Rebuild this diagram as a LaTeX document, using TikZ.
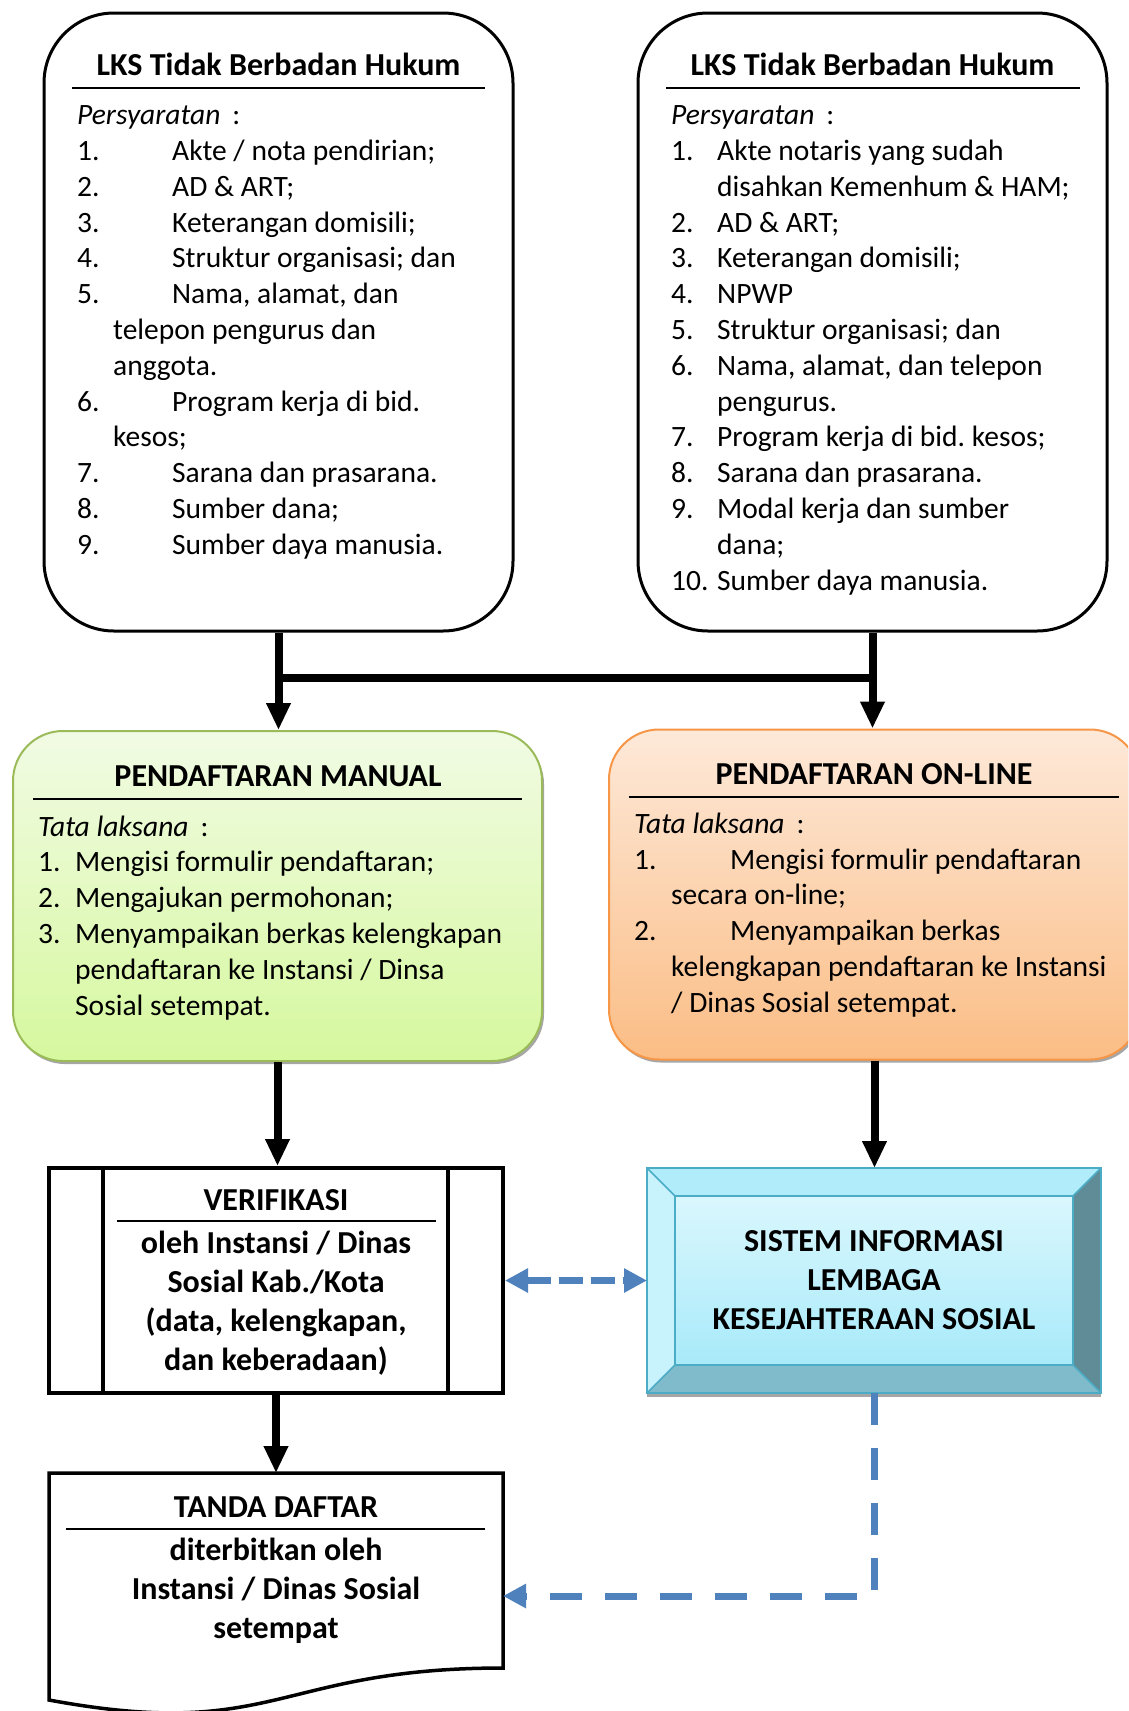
\documentclass[tikz,border=0pt]{standalone}
\usepackage{fontspec}
\setmainfont{Carlito}
\usetikzlibrary{arrows.meta,calc,shadows}
\frenchspacing

\definecolor{hijauGaris}{RGB}{155,187,89}
\definecolor{hijauAtas}{RGB}{241,251,228}
\definecolor{hijauBawah}{RGB}{214,248,158}
\definecolor{oranyeGaris}{RGB}{247,150,70}
\definecolor{oranyeAtas}{RGB}{253,233,217}
\definecolor{oranyeBawah}{RGB}{251,189,133}
\definecolor{biruGaris}{RGB}{75,172,198}
\definecolor{biruMuka}{RGB}{218,247,253}
\definecolor{biruMukaB}{RGB}{168,234,250}
\definecolor{biruAtas}{RGB}{176,236,250}
\definecolor{biruKiri}{RGB}{200,242,252}
\definecolor{biruKanan}{RGB}{95,140,150}
\definecolor{biruBawah}{RGB}{128,187,204}
\definecolor{biruPanah}{RGB}{79,129,189}

\begin{document}
\begin{tikzpicture}[x=1pt, y=-1pt,
    font=\fontsize{29.5}{35.8}\selectfont,
    kotakLKS/.style={draw, line width=3pt, rounded corners=70pt,
        minimum width=469pt, minimum height=618pt, inner sep=0pt},
    kotakDaftar/.style={line width=2pt, rounded corners=50pt, inner sep=0pt,
        minimum height=330pt,
        drop shadow={shadow xshift=2pt, shadow yshift=-3pt, fill=black, opacity=0.35}},
    isi/.style={anchor=north west, align=left, inner sep=0pt},
    judul/.style={anchor=base, inner sep=0pt, font=\fontsize{32}{35.8}\selectfont\bfseries},
    tengah/.style={anchor=north, align=center, inner sep=0pt,
        font=\fontsize{32}{39}\selectfont\bfseries},
    garis/.style={line width=1.5pt},
    sambung/.style={line width=8pt},
    panah/.style={line width=8pt, -{Triangle[length=27pt,width=23pt]}},
    putus/.style={line width=7pt, draw=biruPanah},
    ujung/.tip={Triangle[length=23pt,width=23pt]}
]
    \useasboundingbox (0,0) rectangle (1128,1711);
    \clip (0,0) rectangle (1128,1711);

    % LKS kiri
    \node[kotakLKS] (lks1) at (278.5,322) {};
    \node[judul] (judul1) at (278.5,75) {LKS Tidak Berbadan Hukum};
    \draw[garis] (72,88) -- (485,88);
    \node[isi] (syarat1) at (77,99.5) {\strut\textit{Persyaratan}\hspace{12pt}:\\
        \makebox[95pt][l]{1.}Akte / nota pendirian;\\
        \makebox[95pt][l]{2.}AD \& ART;\\
        \makebox[95pt][l]{3.}Keterangan domisili;\\
        \makebox[95pt][l]{4.}Struktur organisasi; dan\\
        \makebox[95pt][l]{5.}Nama, alamat, dan\\
        \hspace*{36pt}telepon pengurus dan\\
        \hspace*{36pt}anggota.\\
        \makebox[95pt][l]{6.}Program kerja di bid.\\
        \hspace*{36pt}kesos;\\
        \makebox[95pt][l]{7.}Sarana dan prasarana.\\
        \makebox[95pt][l]{8.}Sumber dana;\\
        \makebox[95pt][l]{9.}Sumber daya manusia.};

    % LKS kanan
    \node[kotakLKS] (lks2) at (872.5,322) {};
    \node[judul] (judul2) at (872.5,75) {LKS Tidak Berbadan Hukum};
    \draw[garis] (666,88) -- (1080,88);
    \node[isi] (syarat2) at (671,99.5) {\strut\textit{Persyaratan}\hspace{12pt}:\\
        \makebox[46pt][l]{1.}Akte notaris yang sudah\\
        \hspace*{46pt}disahkan Kemenhum \& HAM;\\
        \makebox[46pt][l]{2.}AD \& ART;\\
        \makebox[46pt][l]{3.}Keterangan domisili;\\
        \makebox[46pt][l]{4.}NPWP\\
        \makebox[46pt][l]{5.}Struktur organisasi; dan\\
        \makebox[46pt][l]{6.}Nama, alamat, dan telepon\\
        \hspace*{46pt}pengurus.\\
        \makebox[46pt][l]{7.}Program kerja di bid. kesos;\\
        \makebox[46pt][l]{8.}Sarana dan prasarana.\\
        \makebox[46pt][l]{9.}Modal kerja dan sumber\\
        \hspace*{46pt}dana;\\
        \makebox[46pt][l]{10.}Sumber daya manusia.};

    % Pendaftaran manual
    \node[kotakDaftar, draw=hijauGaris, top color=hijauAtas, bottom color=hijauBawah,
        minimum width=529pt] (manual) at (277.5,896) {};
    \node[judul] (judulM) at (278,786) {PENDAFTARAN MANUAL};
    \draw[garis] (33,799) -- (522,799);
    \node[isi] (tataM) at (38,810.9) {\strut\textit{Tata laksana}\hspace{12pt}:\\
        \makebox[37pt][l]{1.}Mengisi formulir pendaftaran;\\
        \makebox[37pt][l]{2.}Mengajukan permohonan;\\
        \makebox[37pt][l]{3.}Menyampaikan berkas kelengkapan\\
        \hspace*{37pt}pendaftaran ke Instansi / Dinsa\\
        \hspace*{37pt}Sosial setempat.};

    % Pendaftaran on-line
    \node[kotakDaftar, draw=oranyeGaris, top color=oranyeAtas, bottom color=oranyeBawah,
        minimum width=531pt] (online) at (874.5,894.5) {};
    \node[judul] (judulO) at (874,784) {PENDAFTARAN ON-LINE};
    \draw[garis] (629,797) -- (1119,797);
    \node[isi] (tataO) at (634,808) {\strut\textit{Tata laksana}\hspace{12pt}:\\
        \makebox[96pt][l]{1.}Mengisi formulir pendaftaran\\
        \hspace*{37pt}secara on-line;\\
        \makebox[96pt][l]{2.}Menyampaikan berkas\\
        \hspace*{37pt}kelengkapan pendaftaran ke Instansi\\
        \hspace*{37pt}/ Dinas Sosial setempat.};

    % Verifikasi
    \node[draw, line width=4pt, minimum width=454pt, minimum height=225pt,
        inner sep=0pt] (verif) at (276,1280.5) {};
    \draw[line width=4pt] ([xshift=56pt]verif.north west) -- ([xshift=56pt]verif.south west);
    \draw[line width=4pt] ([xshift=-57pt]verif.north east) -- ([xshift=-57pt]verif.south east);
    \node[judul] (judulV) at (276,1210) {VERIFIKASI};
    \draw[garis] (117,1221) -- (436,1221);
    \node[tengah] (teksV) at (276,1225.7) {\strut oleh Instansi / Dinas\\
        Sosial Kab./Kota\\(data, kelengkapan,\\dan keberadaan)};

    % Sistem informasi
    \node[minimum width=454pt, minimum height=225pt, inner sep=0pt,
        outer sep=0pt] (sik) at (874,1280.5) {};
    \fill[black!35] ([yshift=-4pt]sik.south west) rectangle (sik.south east);
    \fill[biruAtas] (sik.north west) -- (sik.north east) -- ++(-28,28)
        -- ($(sik.north west)+(28,28)$) -- cycle;
    \fill[biruKiri] (sik.north west) -- ++(28,28) -- ($(sik.south west)+(28,-28)$)
        -- (sik.south west) -- cycle;
    \fill[biruKanan] (sik.north east) -- ++(-28,28) -- ($(sik.south east)+(-28,-28)$)
        -- (sik.south east) -- cycle;
    \fill[biruBawah] (sik.south west) -- ++(28,-28) -- ($(sik.south east)+(-28,-28)$)
        -- (sik.south east) -- cycle;
    \shade[top color=biruMuka, bottom color=biruMukaB]
        ($(sik.north west)+(28,28)$) rectangle ($(sik.south east)+(-28,-28)$);
    \draw[biruGaris, line width=1.5pt] (sik.north west) rectangle (sik.south east);
    \draw[biruGaris, line width=1.5pt]
        ($(sik.north west)+(28,28)$) rectangle ($(sik.south east)+(-28,-28)$);
    \draw[biruGaris, line width=1.5pt] (sik.north west) -- ++(28,28);
    \draw[biruGaris, line width=1.5pt] (sik.north east) -- ++(-28,28);
    \draw[biruGaris, line width=1.5pt] (sik.south west) -- ++(28,-28);
    \draw[biruGaris, line width=1.5pt] (sik.south east) -- ++(-28,-28);
    \node[tengah] (teksS) at (874,1223.7) {\strut SISTEM INFORMASI\\LEMBAGA\\
        KESEJAHTERAAN SOSIAL};

    % Tanda daftar
    \node[minimum width=454pt, minimum height=195pt, inner sep=0pt,
        outer sep=0pt] (tanda) at (276,1570.5) {};
    \draw[line width=3.5pt, fill=white] (tanda.north west) -- (tanda.north east)
        -- (tanda.south east) .. controls (tanda.south) and ($(tanda.south)+(0,74)$)
        .. ($(tanda.south west)+(0,32)$) -- cycle;
    \node[judul] (judulT) at (276,1517) {TANDA DAFTAR};
    \draw[garis] (66,1529) -- (485,1529);
    \node[tengah] (teksT) at (276,1532.7)
        {\strut diterbitkan oleh\\Instansi / Dinas Sosial\\setempat};

    % Panah
    \coordinate (bar) at (0,678);
    \coordinate (belok) at (0,1596);
    \draw[panah] (lks1.south) -- (lks1.south |- manual.north);
    \draw[panah] (lks2.south) -- (lks2.south |- online.north);
    \draw[sambung] (lks1.south |- bar) -- (lks2.south |- bar);
    \draw[panah] (manual.south) -- (manual.south |- verif.north);
    \draw[panah] (online.south) -- (online.south |- sik.north);
    \draw[panah] (verif.south) -- (verif.south |- tanda.north);

    % Garis putus-putus
    \draw[putus, dash pattern=on 24pt off 8pt, ujung-ujung]
        (verif.east) -- (verif.east -| sik.west);
    \draw[putus, dash pattern=on 32pt off 23pt, -ujung]
        (sik.south) -- (sik.south |- belok) -- (tanda.east |- belok);
\end{tikzpicture}
\end{document}
